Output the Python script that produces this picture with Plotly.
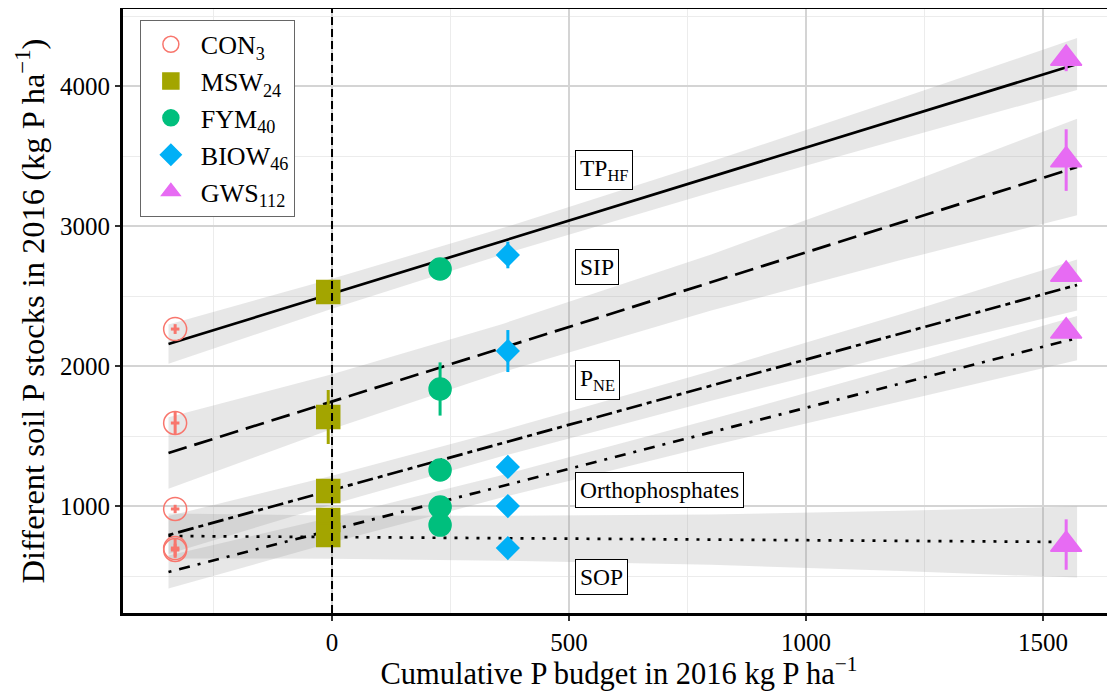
import plotly.graph_objects as go

# fractions (one regression line per fraction)
fractions = ["TP<sub>HF</sub>", "SIP", "P<sub>NE</sub>", "Orthophosphates", "SOP"]

# treatments: cumulative P budget (x) and soil P stocks per fraction (y)
treatments = ["CON<sub>3</sub>", "MSW<sub>24</sub>", "FYM<sub>40</sub>", "BIOW<sub>46</sub>", "GWS<sub>112</sub>"]
budget = [-331, -8, 228, 371, 1549]

con_y = [2264, 1593, 979, 686, 700]
msw_y = [2529, 1636, 1107, 900, 793]
fym_y = [2693, 1836, 1257, 993, 864]
biow_y = [2793, 2107, 1279, 1000, 700]
gws_y = [4196, 3471, 2654, 2248, 725]

con_err = [35, 85, 30, 45, 70]
msw_err = [30, 193, 60, 40, 40]
fym_err = [30, 190, 25, 40, 60]
biow_err = [95, 150, 30, 30, 30]
gws_err = [90, 220, 40, 40, 180]
con_xerr = [9, 9, 9, 9, 9]

# fitted lines and confidence half-widths, read at these budget values
fit_x = [-345, 0, 360, 800, 1200, 1572]
fit_tp = [2157, 2516, 2891, 3350, 3767, 4157]
fit_sip = [1379, 1746, 2129, 2597, 3022, 3421]
fit_pne = [793, 1114, 1449, 1858, 2230, 2579]
fit_ortho = [529, 829, 1142, 1525, 1873, 2200]
fit_sop = [786, 778, 770, 760, 751, 743]

hw_tp = [140, 107, 94, 110, 145, 185]
hw_sip = [255, 195, 172, 200, 265, 345]
hw_pne = [135, 103, 92, 106, 140, 182]
hw_ortho = [118, 90, 80, 94, 123, 158]
hw_sop = [160, 155, 160, 180, 215, 254]

# label positions
label_x = [513, 513, 513, 513, 513]
label_y = [3400, 2707, 1900, 1114, 493]

x_ticks = [0, 500, 1000, 1500]
x_minor = [-250, 250, 750, 1250]
y_ticks = [1000, 2000, 3000, 4000]
y_minor = [500, 1500, 2500, 3500, 4500]
budget_zero = 0

colors = ["#F8766D", "#A3A500", "#00BF7D", "#00B0F6", "#E76BF3"]
symbols = ["circle-open", "square", "circle", "diamond", "triangle-up"]
sizes = [23, 23, 22, 17, 27]
dashes = ["solid", "19px,8px", "5px,5px,16px,5px", "3px,8px,11px,8px", "3px,8px"]

fits = [fit_tp, fit_sip, fit_pne, fit_ortho, fit_sop]
hws = [hw_tp, hw_sip, hw_pne, hw_ortho, hw_sop]
ys = [con_y, msw_y, fym_y, biow_y, gws_y]
errs = [con_err, msw_err, fym_err, biow_err, gws_err]

fig = go.Figure()

for fit, hw in zip(fits, hws):
    upper = [f + h for f, h in zip(fit, hw)]
    lower = [f - h for f, h in zip(fit, hw)]
    fig.add_trace(go.Scatter(
        x=fit_x + fit_x[::-1], y=upper + lower[::-1],
        fill="toself", fillcolor="rgba(153,153,153,0.23)",
        line=dict(width=0), mode="lines", showlegend=False, hoverinfo="skip",
    ))

for fit, dash in zip(fits, dashes):
    fig.add_trace(go.Scatter(
        x=fit_x, y=fit, mode="lines",
        line=dict(color="black", width=2.7, dash=dash),
        showlegend=False,
    ))

for i, name in enumerate(treatments):
    err_x = dict(type="data", array=con_xerr, color=colors[i], thickness=3, width=0) if i == 0 else None
    fig.add_trace(go.Scatter(
        x=[budget[i]] * len(fractions), y=ys[i], mode="markers", name=name,
        legendgroup=f"g{i}",
        marker=dict(symbol=symbols[i], size=sizes[i], color=colors[i],
                    line=dict(width=1.5, color=colors[i])),
        error_y=dict(type="data", array=errs[i], color=colors[i], thickness=3, width=0),
        error_x=err_x,
    ))

fig.add_vline(x=budget_zero, line=dict(color="black", width=2, dash="8px,4px"), layer="above")

for txt, lx, ly in zip(fractions, label_x, label_y):
    fig.add_annotation(
        x=lx, y=ly, text=txt, showarrow=False, xanchor="left",
        font=dict(size=23.5, color="black"),
        bgcolor="white", bordercolor="black", borderwidth=1, borderpad=4,
    )

fig.update_xaxes(
    range=[-441, 1652], tickvals=x_ticks, ticktext=[str(v) for v in x_ticks],
    showgrid=True, gridcolor="#d4d4d4", gridwidth=1.5,
    minor=dict(tickvals=x_minor, showgrid=True, gridcolor="#ececec", gridwidth=1),
    showline=True, linecolor="black", linewidth=3, mirror=True,
    ticks="outside", ticklen=5, tickwidth=1.5, tickcolor="#333333",
    zeroline=False, tickfont=dict(size=25), automargin=False,
    title=dict(text="Cumulative P budget in 2016 kg P ha<sup>\u22121</sup>", font=dict(size=30.5), standoff=0),
)
fig.update_yaxes(
    range=[236, 4550], tickvals=y_ticks,
    showgrid=True, gridcolor="#d4d4d4", gridwidth=1.5,
    minor=dict(tickvals=y_minor, showgrid=True, gridcolor="#ececec", gridwidth=1),
    showline=True, linecolor="black", linewidth=3,
    ticks="outside", ticklen=5, tickwidth=1.5, tickcolor="#333333",
    zeroline=False, tickfont=dict(size=25), automargin=False,
    title=dict(text="Different soil P stocks in 2016 (kg P ha<sup>\u22121</sup>)", font=dict(size=32.5), standoff=6),
)

fig.update_layout(
    width=1107, height=683,
    margin=dict(l=115, r=0, t=1, b=78),
    plot_bgcolor="white", paper_bgcolor="white",
    font=dict(family="Liberation Serif", color="black"),
    legend=dict(
        x=0.017, y=0.982, xanchor="left", yanchor="top",
        bgcolor="white", bordercolor="#666666", borderwidth=1,
        font=dict(size=26), tracegroupgap=0, itemwidth=50,
    ),
)

fig.write_html("out.html")
